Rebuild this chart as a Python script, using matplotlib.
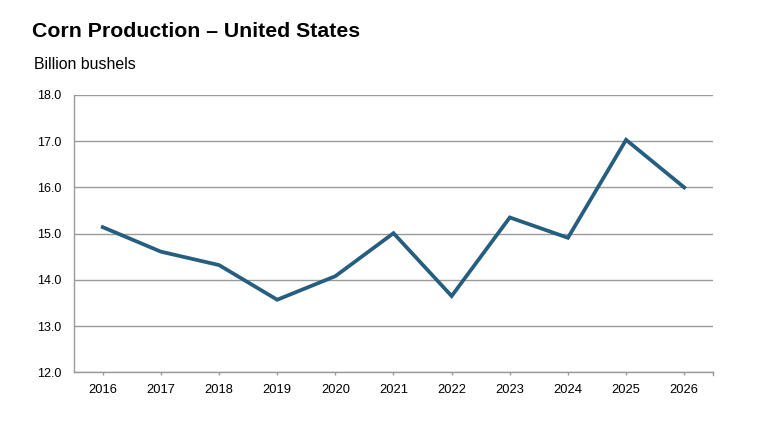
import matplotlib
matplotlib.use("Agg")
import matplotlib.pyplot as plt

years = ["2016", "2017", "2018", "2019", "2020", "2021", "2022", "2023", "2024", "2025", "2026"]
production = [15.14, 14.61, 14.32, 13.57, 14.08, 15.01, 13.65, 15.35, 14.91, 17.03, 16.0]
y_ticks = [12.0, 13.0, 14.0, 15.0, 16.0, 17.0, 18.0]

plt.rcParams['font.family'] = ['Liberation Sans', 'DejaVu Sans']

fig = plt.figure(figsize=(7.57, 4.25), dpi=100)
ax = fig.add_axes([73.7/757, 1-372.3/425, (713.3-73.7)/757, (372.3-95)/425])

x = list(range(len(years)))
ax.plot(x, production, color="#255E7E", linewidth=2.7, solid_joinstyle="miter", zorder=3)

ax.set_xlim(-0.5, len(years) - 0.5)
ax.set_ylim(12.0, 18.0)
ax.set_yticks(y_ticks)
ax.set_yticklabels([f"{v:.1f}" for v in y_ticks])
ax.set_xticks(x)
ax.set_xticklabels(years)

ax.grid(axis="y", color="#9a9a9a", linewidth=1.0, zorder=1)
ax.set_axisbelow(True)
for s in ["top", "right"]:
    ax.spines[s].set_visible(False)
for s in ["left", "bottom"]:
    ax.spines[s].set_color("#9a9a9a")
    ax.spines[s].set_linewidth(1.0)

ax.tick_params(axis="y", length=0, pad=9, labelsize=9, colors="#000000")
ax.tick_params(axis="x", which="major", length=2.5, width=1.0, color="#9a9a9a", pad=6, labelsize=9.3)
# right end tick
ax.plot([len(years) - 0.5, len(years) - 0.5], [0, -0.01], transform=ax.get_xaxis_transform(),
        color="#9a9a9a", linewidth=1.0, clip_on=False)

fig.text(32/757, 1-36.7/425, "Corn Production – United States", fontsize=15.3, fontweight="bold",
         ha="left", va="baseline")
fig.text(34/757, 1-69.3/425, "Billion bushels", fontsize=11.4, ha="left", va="baseline")

fig.savefig("out.png", dpi=100)
